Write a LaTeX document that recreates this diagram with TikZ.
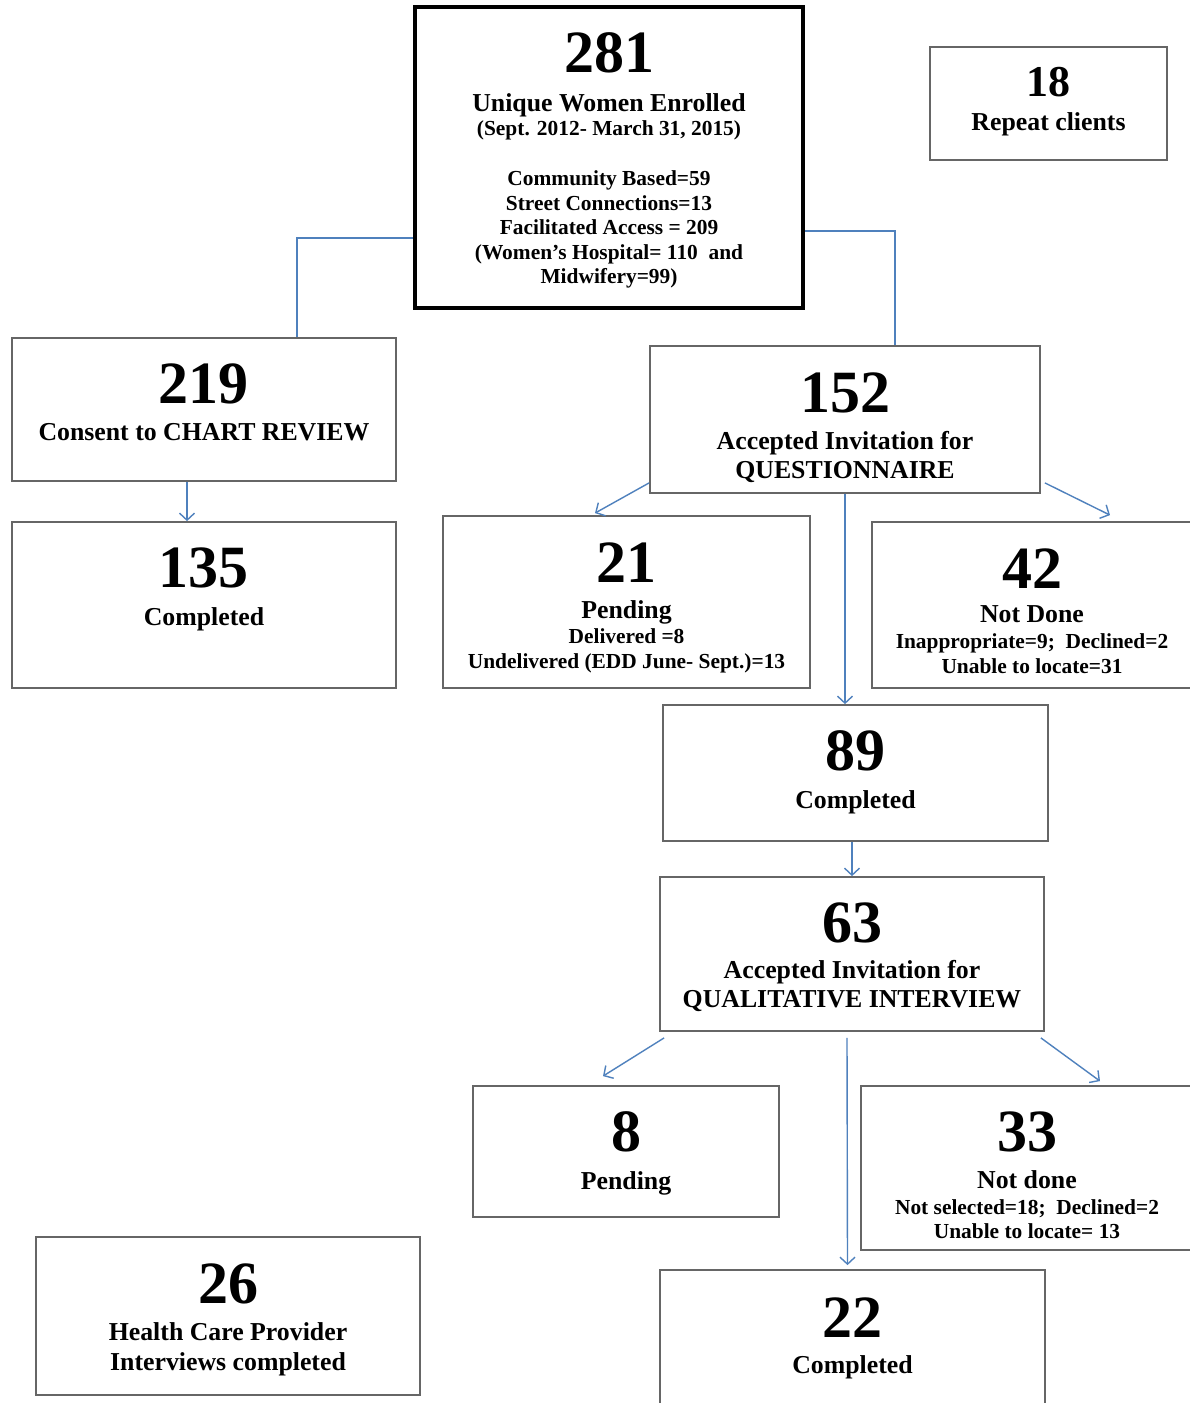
\documentclass[tikz,border=0pt]{standalone}
\usepackage{fontspec}
\setmainfont{Liberation Serif}
\usetikzlibrary{arrows.meta}
\newcommand{\numsz}{\fontsize{60}{60}\selectfont}
\newcommand{\subsz}{\fontsize{25.8}{29}\selectfont}
\newcommand{\detsz}{\fontsize{21.4}{24.5}\selectfont}
% box of fixed size, text hung from its top
\newcommand{\boxtxt}[4][27pt]{\parbox[c][#2][t]{#3}{\centering\vspace*{#1}#4}}
\begin{document}
\begin{tikzpicture}[
        x=1pt, y=-1pt,
        font=\bfseries\detsz
    ]
    \tikzset{
        mybox/.style = {rectangle, draw=black!60, line width=1.8pt, align=center, fill=white, inner sep=0pt},
        mytop/.style = {rectangle, draw=black, line width=4.5pt, align=center, fill=white, inner sep=0pt},
        linkn/.style = {-, line width=1.4pt, color=linkblue},
        linka/.style = {-{Straight Barb[length=7pt,width=15pt]}, line width=1.4pt, color=linkblue},
    }
    \definecolor{linkblue}{RGB}{79,129,189}
    \fill[white] (0,0) rectangle (1189,1403);
    \useasboundingbox (0,0) rectangle (1189,1403);
    %
    \node[mytop] at (609,157.5) (top)
        {\boxtxt[26pt]{301pt}{388pt}{{\numsz 281}\\[14pt]
         {\subsz Unique Women Enrolled}\\
         (Sept. 2012- March 31, 2015)\\[25.5pt]
         Community Based=59\\
         Street Connections=13\\
         Facilitated Access = 209\\
         (Women’s Hospital= 110\ \ and\\
         Midwifery=99)}};
    \node[mybox] at (1048.5,103.5) (rep)
        {\boxtxt[20pt]{113pt}{237pt}{{\fontsize{44}{44}\selectfont 18}\\[10pt] {\subsz Repeat clients}}};
    %
    \node[mybox] at (204,409.5) (cr)
        {\boxtxt[26pt]{143pt}{384pt}{{\numsz 219}\\[12.5pt] {\subsz Consent to CHART REVIEW}}};
    \node[mybox] at (204,605) (cc)
        {\boxtxt[26pt]{166pt}{384pt}{{\numsz 135}\\[13pt] {\subsz Completed}}};
    %
    \node[mybox] at (845,419.5) (qa)
        {\boxtxt{147pt}{390pt}{{\numsz 152}\\[12pt] {\subsz Accepted Invitation for}\\[4.5pt] {\subsz QUESTIONNAIRE}}};
    \node[mybox] at (626.5,602) (qp)
        {\boxtxt{172pt}{367pt}{{\numsz 21}\\[11.5pt] {\subsz Pending}\\[0.5pt] Delivered =8\\ Undelivered (EDD June- Sept.)=13}};
    \node[mybox] at (1032,605) (qn)
        {\boxtxt{166pt}{320pt}{{\numsz 42}\\[9.5pt] {\subsz Not Done}\\[1.5pt] Inappropriate=9;\ \ Declined=2\\ Unable to locate=31}};
    \node[mybox] at (855.5,773) (qc)
        {\boxtxt[26pt]{136pt}{385pt}{{\numsz 89}\\[13pt] {\subsz Completed}}};
    %
    \node[mybox] at (852,954) (ia)
        {\boxtxt[26pt]{154pt}{384pt}{{\numsz 63}\\[11.5pt] {\subsz Accepted Invitation for}\\[4.5pt] {\subsz QUALITATIVE INTERVIEW}}};
    \node[mybox] at (626,1151.5) (ip)
        {\boxtxt[26pt]{131pt}{306pt}{{\numsz 8}\\[13.5pt] {\subsz Pending}}};
    \node[mybox] at (1027,1168) (in)
        {\boxtxt[26pt]{164pt}{332pt}{{\numsz 33}\\[12.5pt] {\subsz Not done}\\[1pt] Not selected=18;\ \ Declined=2\\ Unable to locate= 13}};
    \node[mybox] at (852.5,1350) (ic)
        {\boxtxt[28pt]{160pt}{385pt}{{\numsz 22}\\[11.5pt] {\subsz Completed}}};
    \node[mybox] at (228,1316) (hc)
        {\boxtxt{158pt}{384pt}{{\numsz 26}\\[12.5pt] {\subsz Health Care Provider}\\[5.5pt] {\subsz Interviews completed}}};
    %
    \draw[linkn] ([yshift=-80.5pt]top.west) -| ([xshift=93pt]cr.north);
    \draw[linkn] ([yshift=-73.5pt]top.east) -| ([xshift=50pt]qa.north);
    \draw[linka] ([xshift=-17pt]cr.south) -- ([xshift=-17pt]cc.north);
    %
    \draw[linka] ([yshift=11pt]qa.south west) -- ([xshift=-31.5pt,yshift=2pt]qp.north);
    \draw[linka] (qa.south) -- (qa.south |- qc.north);
    \draw[linka] ([xshift=4pt,yshift=11pt]qa.south east) -- ([xshift=78pt,yshift=6pt]qn.north);
    \draw[linka] (ia.north |- qc.south) -- (ia.north);
    %
    \draw[linka] ([xshift=5pt,yshift=-6pt]ia.south west) -- ([xshift=-23pt,yshift=9pt]ip.north);
    \draw[linka] ([xshift=-5pt,yshift=-6pt]ia.south) -- ([xshift=-5pt,yshift=4pt]ic.north);
    \draw[linka] ([xshift=-4pt,yshift=-6pt]ia.south east) -- ([xshift=73pt,yshift=4pt]in.north);
\end{tikzpicture}
\end{document}
